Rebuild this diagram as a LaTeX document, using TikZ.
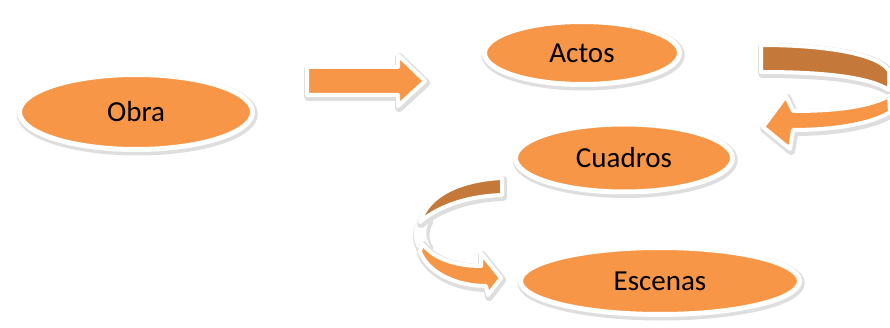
\documentclass[tikz,border=0pt]{standalone}
\usepackage{fontspec}
\setmainfont{Carlito}
\usetikzlibrary{shapes.geometric}
\definecolor{accent}{RGB}{247,150,70}
\definecolor{accentdark}{RGB}{196,121,58}

\begin{document}
\begin{tikzpicture}[x=1pt,y=-1pt,
      halo/.style={preaction={draw=black!13,line width=8pt,line join=round,
        transform canvas={xshift=1.2pt,yshift=-2pt}}},
      oval/.style={ellipse,halo,fill=accent,draw=white,line width=5pt,inner sep=0pt,
        font=\fontsize{29}{35}\selectfont},
      band/.style={halo,fill=accent,draw=white,line width=4pt,line join=round},
      darkband/.style={band,fill=accentdark}]

  \useasboundingbox (0,0) rectangle (890,328);

  \node[oval,minimum width=233pt,minimum height=75pt] (obra) at (136,112) {Obra};
  \node[oval,minimum width=195pt,minimum height=63pt] (actos) at (582,53) {Actos};
  \node[oval,minimum width=217pt,minimum height=68pt] (cuadros) at (624,158) {Cuadros};
  \node[oval,minimum width=279pt,minimum height=67pt] (escenas) at (660,281) {Escenas};

  \filldraw[band] (307,67) -- (398,67) -- (398,55) -- (425,81) -- (398,106)
    -- (398,95) -- (307,95) -- cycle;

  \filldraw[darkband] (761,45) .. controls (830,45) and (880,55) .. (889,71)
    -- (889,90) .. controls (870,78) and (830,72) .. (761,72) -- cycle;
  \filldraw[band] (889,96) .. controls (870,106) and (840,111) .. (793,111)
    -- (786,96) -- (763,127) -- (790,149) -- (793,130)
    .. controls (840,130) and (875,122) .. (890,112) -- cycle;

  \filldraw[band,fill=white] (422,215) .. controls (414,228) and (414,240) .. (421,250)
    -- (428,246) .. controls (423,238) and (423,228) .. (428,220) -- cycle;
  \filldraw[darkband] (502,178) .. controls (460,180) and (428,195) .. (420,222)
    .. controls (440,205) and (470,196) .. (502,195) -- cycle;
  \filldraw[band] (422,243) .. controls (432,258) and (455,266) .. (481,266)
    -- (481,253) -- (501,278) -- (488,295) -- (486,286)
    .. controls (455,286) and (428,272) .. (420,252) -- cycle;
\end{tikzpicture}
\end{document}
